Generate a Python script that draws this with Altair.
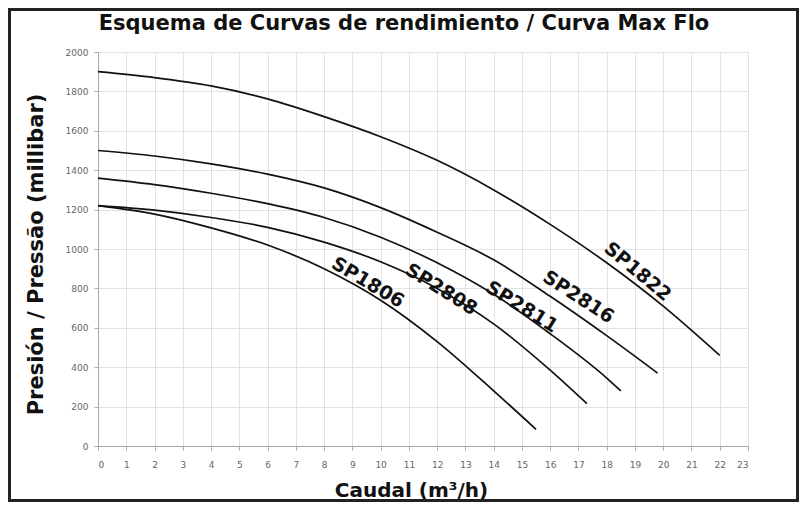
import altair as alt
import pandas as pd

# ---- data ----
series_names = ["SP1822", "SP2816", "SP2811", "SP2808", "SP1806"]

q_1822 = [0, 2, 4, 6, 8, 10, 12, 14, 16, 18, 20, 22]
p_1822 = [1900, 1870, 1828, 1762, 1672, 1570, 1450, 1300, 1125, 930, 710, 460]

q_2816 = [0, 2, 4, 6, 8, 10, 12, 14, 16, 18, 19.8]
p_2816 = [1500, 1472, 1432, 1380, 1310, 1210, 1085, 945, 760, 560, 370]

q_2811 = [0, 2, 4, 6, 8, 10, 12, 14, 16, 18, 18.5]
p_2811 = [1360, 1327, 1283, 1230, 1160, 1060, 930, 770, 570, 345, 280]

q_2808 = [0, 2, 4, 6, 8, 10, 12, 14, 16, 17.3]
p_2808 = [1220, 1197, 1160, 1110, 1035, 935, 800, 620, 385, 215]

q_1806 = [0, 2, 4, 6, 8, 10, 12, 14, 15.5]
p_1806 = [1220, 1177, 1107, 1020, 900, 740, 530, 280, 85]

label_q = [19.1, 17.0, 15.0, 12.15, 9.55]
label_p = [885, 756, 706, 795, 830]
label_angle = [40, 33, 32, 32, 31]

x_ticks = list(range(0, 24))
y_ticks = list(range(0, 2001, 200))

chart_title = "Esquema de Curvas de rendimiento / Curva Max Flo"

rows = []
for name, qs, ps in [
    ("SP1822", q_1822, p_1822),
    ("SP2816", q_2816, p_2816),
    ("SP2811", q_2811, p_2811),
    ("SP2808", q_2808, p_2808),
    ("SP1806", q_1806, p_1806),
]:
    for q, p in zip(qs, ps):
        rows.append({"serie": name, "q": q, "p": p})
df = pd.DataFrame(rows)

labels = pd.DataFrame({"serie": series_names, "q": label_q, "p": label_p, "angle": label_angle})
title_df = pd.DataFrame({"t": [chart_title]})

FONT = "DejaVu Sans"

xscale = alt.Scale(domain=[0, 23], nice=False, zero=False)
yscale = alt.Scale(domain=[0, 2000], nice=False)

x_axis = alt.Axis(
    values=x_ticks,
    format="d",
    labelOverlap=False,
    title="Caudal (m³/h)",
    titleFont=FONT,
    titleFontSize=20,
    titleFontWeight="bold",
    titleColor="#111111",
    titleX=313,
    titleY=44,
    titleBaseline="middle",
    labelFont=FONT,
    labelFontSize=9,
    labelColor="#666666",
    labelPadding=10,
    tickSize=4,
    tickColor="#aaaaaa",
    domainColor="#aaaaaa",
    gridColor="#e2e2e2",
)

y_axis = alt.Axis(
    values=y_ticks,
    format="d",
    labelOverlap=False,
    title="Presión / Pressão (millibar)",
    titleFont=FONT,
    titleFontSize=21,
    titleFontWeight="bold",
    titleColor="#111111",
    titleX=-62,
    titleY=202,
    titleAngle=270,
    titleBaseline="middle",
    labelFont=FONT,
    labelFontSize=9,
    labelColor="#666666",
    labelPadding=6,
    tickSize=4,
    tickColor="#aaaaaa",
    domainColor="#aaaaaa",
    gridColor="#e2e2e2",
)

lines = alt.Chart(df).mark_line(
    color="#111111", strokeWidth=1.7, interpolate="monotone"
).encode(
    x=alt.X("q:Q", scale=xscale, axis=x_axis),
    y=alt.Y("p:Q", scale=yscale, axis=y_axis),
    detail="serie:N",
)

texts = alt.Chart(labels).mark_text(
    font=FONT, fontSize=19, fontWeight="bold", color="#111111",
    align="center", baseline="middle",
).encode(
    x=alt.X("q:Q", scale=xscale, axis=x_axis),
    y=alt.Y("p:Q", scale=yscale, axis=y_axis),
    text="serie:N",
    angle=alt.Angle("angle:Q", scale=None),
)

title_mark = alt.Chart(title_df).mark_text(
    font=FONT, fontSize=21, fontWeight="bold", color="#111111",
    align="center", baseline="alphabetic",
).encode(
    x=alt.value(306), y=alt.value(-22), text="t:N"
)

frame = alt.Chart(title_df).mark_rect(
    fill=None, stroke="#222222", strokeWidth=3
).encode(
    x=alt.value(-88.5), x2=alt.value(699.5), y=alt.value(-42.5), y2=alt.value(448.5)
)

chart = alt.layer(lines, texts, title_mark, frame).properties(
    width=650,
    height=394,
    autosize=alt.AutoSizeParams(type="none"),
    padding={"left": 90, "top": 44, "right": 51, "bottom": 56},
).configure_view(stroke="#bbbbbb")

chart.save("out.html", embed_options={"renderer": "svg", "actions": False})
